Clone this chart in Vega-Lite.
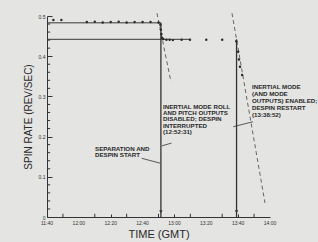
{
  "$schema": "https://vega.github.io/schema/vega-lite/v6.json",
  "width": 223,
  "height": 201,
  "autosize": {"type": "none"},
  "padding": {"left": 47, "top": 16, "right": 48, "bottom": 25},
  "background": "#e4e4e2",
  "config": {
    "view": {"stroke": null},
    "font": "Liberation Sans",
    "axis": {"grid": false, "labelOverlap": false, "labelBound": false, "domainColor": "#333", "tickColor": "#333", "labelColor": "#333", "titleColor": "#2a2a2a", "labelFont": "Liberation Sans", "titleFont": "Liberation Sans"}
  },
  "datasets": {
    "dots": [
      {"t": "1970-01-01T11:44:00", "v": 0.490},
      {"t": "1970-01-01T11:49:00", "v": 0.490},
      {"t": "1970-01-01T12:05:00", "v": 0.485},
      {"t": "1970-01-01T12:10:00", "v": 0.486},
      {"t": "1970-01-01T12:15:00", "v": 0.484},
      {"t": "1970-01-01T12:20:00", "v": 0.485},
      {"t": "1970-01-01T12:25:00", "v": 0.486},
      {"t": "1970-01-01T12:30:00", "v": 0.484},
      {"t": "1970-01-01T12:35:00", "v": 0.485},
      {"t": "1970-01-01T12:40:00", "v": 0.485},
      {"t": "1970-01-01T12:45:00", "v": 0.485},
      {"t": "1970-01-01T12:50:00", "v": 0.484},
      {"t": "1970-01-01T12:51:10", "v": 0.478},
      {"t": "1970-01-01T12:51:30", "v": 0.466},
      {"t": "1970-01-01T12:51:50", "v": 0.455},
      {"t": "1970-01-01T12:52:10", "v": 0.446},
      {"t": "1970-01-01T12:53:00", "v": 0.443},
      {"t": "1970-01-01T12:55:00", "v": 0.441},
      {"t": "1970-01-01T12:57:00", "v": 0.441},
      {"t": "1970-01-01T12:59:00", "v": 0.440},
      {"t": "1970-01-01T13:04:30", "v": 0.441},
      {"t": "1970-01-01T13:09:45", "v": 0.441},
      {"t": "1970-01-01T13:20:00", "v": 0.441},
      {"t": "1970-01-01T13:30:00", "v": 0.441},
      {"t": "1970-01-01T13:38:50", "v": 0.437},
      {"t": "1970-01-01T13:40:00", "v": 0.411},
      {"t": "1970-01-01T13:40:30", "v": 0.392},
      {"t": "1970-01-01T13:41:10", "v": 0.374},
      {"t": "1970-01-01T13:42:30", "v": 0.353}
    ],
    "solid": [
      {"g": "upper", "t": "1970-01-01T11:40:00", "v": 0.483},
      {"g": "upper", "t": "1970-01-01T12:51:30", "v": 0.483},
      {"g": "lower", "t": "1970-01-01T11:40:00", "v": 0.442},
      {"g": "lower", "t": "1970-01-01T13:10:00", "v": 0.442}
    ],
    "dashed": [
      {"g": "d1", "t": "1970-01-01T12:49:03", "v": 0.507},
      {"g": "d1", "t": "1970-01-01T12:57:50", "v": 0.336},
      {"g": "d2", "t": "1970-01-01T13:36:08", "v": 0.507},
      {"g": "d2", "t": "1970-01-01T13:56:51", "v": 0.035}
    ],
    "leaders": [
      {"g": "sep", "t": "1970-01-01T12:39:27", "v": 0.146},
      {"g": "sep", "t": "1970-01-01T12:50:56", "v": 0.134},
      {"g": "int", "t": "1970-01-01T12:52:12", "v": 0.177},
      {"g": "int", "t": "1970-01-01T12:58:10", "v": 0.184},
      {"g": "res", "t": "1970-01-01T13:36:57", "v": 0.2246},
      {"g": "res", "t": "1970-01-01T13:49:18", "v": 0.237}
    ],
    "verticals": [
      {"t": "1970-01-01T12:51:30", "v0": 0, "v1": 0.483},
      {"t": "1970-01-01T13:39:00", "v0": 0, "v1": 0.442}
    ],
    "arrows": [
      {"t": "1970-01-01T12:51:30", "v": 0.013},
      {"t": "1970-01-01T13:39:00", "v": 0.013}
    ],
    "yminor": [
      {"v": 0.02}, {"v": 0.04}, {"v": 0.06}, {"v": 0.08},
      {"v": 0.12}, {"v": 0.14}, {"v": 0.16}, {"v": 0.18},
      {"v": 0.22}, {"v": 0.24}, {"v": 0.26}, {"v": 0.28},
      {"v": 0.32}, {"v": 0.34}, {"v": 0.36}, {"v": 0.38},
      {"v": 0.42}, {"v": 0.44}, {"v": 0.46}, {"v": 0.48}
    ],
    "xminor": [
      {"t": "1970-01-01T11:50:00"}, {"t": "1970-01-01T12:10:00"}, {"t": "1970-01-01T12:30:00"},
      {"t": "1970-01-01T12:50:00"}, {"t": "1970-01-01T13:10:00"}, {"t": "1970-01-01T13:30:00"},
      {"t": "1970-01-01T13:50:00"}
    ],
    "xlabels": [
      {"t": "1970-01-01T11:40:00"}, {"t": "1970-01-01T12:00:00"}, {"t": "1970-01-01T12:20:00"},
      {"t": "1970-01-01T12:40:00"}, {"t": "1970-01-01T13:00:00"}, {"t": "1970-01-01T13:20:00"},
      {"t": "1970-01-01T13:40:00"}, {"t": "1970-01-01T14:00:00"}
    ],
    "notes": [
      {"t": "1970-01-01T12:10:08", "v": 0.177, "label": "SEPARATION AND\nDESPIN START"},
      {"t": "1970-01-01T12:52:50", "v": 0.282, "label": "INERTIAL MODE ROLL\nAND PITCH OUTPUTS\nDISABLED; DESPIN\nINTERRUPTED\n(12:52:31)"}
    ],
    "notes2": [
      {"t": "1970-01-01T13:48:41", "v": 0.331, "label": "INERTIAL MODE\n(AND MODE\nOUTPUTS) ENABLED;\nDESPIN RESTART\n(13:38:52)"}
    ]
  },
  "layer": [
    {
      "data": {"name": "solid"},
      "mark": {"type": "line", "color": "#3a3a3a", "strokeWidth": 1},
      "encoding": {
        "x": {
          "field": "t", "type": "temporal",
          "scale": {"domain": [{"year": 1970, "month": 1, "date": 1, "hours": 11, "minutes": 40}, {"year": 1970, "month": 1, "date": 1, "hours": 14, "minutes": 0}], "nice": false},
          "axis": {
            "title": "TIME (GMT)", "titleFontSize": 11, "titleFontWeight": "normal", "titlePadding": 11,
            "values": [
              {"year": 1970, "month": 1, "date": 1, "hours": 11, "minutes": 40},
              {"year": 1970, "month": 1, "date": 1, "hours": 12, "minutes": 0},
              {"year": 1970, "month": 1, "date": 1, "hours": 12, "minutes": 20},
              {"year": 1970, "month": 1, "date": 1, "hours": 12, "minutes": 40},
              {"year": 1970, "month": 1, "date": 1, "hours": 13, "minutes": 0},
              {"year": 1970, "month": 1, "date": 1, "hours": 13, "minutes": 20},
              {"year": 1970, "month": 1, "date": 1, "hours": 13, "minutes": 40},
              {"year": 1970, "month": 1, "date": 1, "hours": 14, "minutes": 0}
            ],
            "labels": false, "tickSize": -3
          }
        },
        "y": {"field": "v", "type": "quantitative", "scale": {"domain": [0, 0.5], "nice": false},
          "axis": {
            "title": "SPIN RATE (REV/SEC)", "titleFontSize": 10, "titleFontWeight": "normal", "titlePadding": 5,
            "values": [0, 0.1, 0.2, 0.3, 0.4, 0.5],
            "format": ".1~f",
            "labelFontSize": 5, "labelPadding": 7, "labelOverlap": false, "labelFlush": false,
            "tickSize": -5
          }
        },
        "detail": {"field": "g"}
      }
    },
    {
      "data": {"name": "xlabels"},
      "mark": {"type": "text", "fontSize": 5, "color": "#333", "baseline": "middle", "align": "center", "dy": 6, "clip": false},
      "encoding": {
        "x": {"field": "t", "type": "temporal"},
        "y": {"datum": 0, "type": "quantitative"},
        "text": {"field": "t", "type": "temporal", "format": "%H:%M"}
      }
    },
    {
      "data": {"name": "yminor"},
      "mark": {"type": "rule", "color": "#333", "strokeWidth": 1},
      "encoding": {
        "x": {"datum": {"year": 1970, "month": 1, "date": 1, "hours": 11, "minutes": 40}, "type": "temporal"},
        "x2": {"datum": {"year": 1970, "month": 1, "date": 1, "hours": 11, "minutes": 42}},
        "y": {"field": "v", "type": "quantitative"}
      }
    },
    {
      "data": {"name": "xminor"},
      "mark": {"type": "rule", "color": "#333", "strokeWidth": 1},
      "encoding": {
        "x": {"field": "t", "type": "temporal"},
        "y": {"datum": 0, "type": "quantitative"},
        "y2": {"datum": 0.008}
      }
    },
    {
      "data": {"name": "dashed"},
      "mark": {"type": "line", "color": "#444", "strokeWidth": 0.8, "strokeDash": [4, 3], "clip": false},
      "encoding": {"x": {"field": "t", "type": "temporal"}, "y": {"field": "v", "type": "quantitative"}, "detail": {"field": "g"}}
    },
    {
      "data": {"name": "leaders"},
      "mark": {"type": "line", "color": "#333", "strokeWidth": 0.8},
      "encoding": {"x": {"field": "t", "type": "temporal"}, "y": {"field": "v", "type": "quantitative"}, "detail": {"field": "g"}}
    },
    {
      "data": {"name": "verticals"},
      "mark": {"type": "rule", "color": "#333", "strokeWidth": 1.3},
      "encoding": {"x": {"field": "t", "type": "temporal"}, "y": {"field": "v0", "type": "quantitative"}, "y2": {"field": "v1"}}
    },
    {
      "data": {"name": "arrows"},
      "mark": {"type": "point", "shape": "triangle-down", "filled": true, "color": "#333", "size": 12, "opacity": 1},
      "encoding": {"x": {"field": "t", "type": "temporal"}, "y": {"field": "v", "type": "quantitative"}}
    },
    {
      "data": {"name": "dots"},
      "mark": {"type": "point", "shape": "circle", "filled": true, "color": "#2a2a2a", "size": 6, "opacity": 1},
      "encoding": {"x": {"field": "t", "type": "temporal"}, "y": {"field": "v", "type": "quantitative"}}
    },
    {
      "data": {"name": "notes"},
      "mark": {"type": "text", "align": "left", "baseline": "top", "fontSize": 6.2, "fontWeight": "bold", "lineHeight": 6.3, "lineBreak": "\n", "color": "#2a2a2a"},
      "encoding": {"x": {"field": "t", "type": "temporal"}, "y": {"field": "v", "type": "quantitative"}, "text": {"field": "label"}}
    },
    {
      "data": {"name": "notes2"},
      "mark": {"type": "text", "align": "left", "baseline": "top", "fontSize": 6.2, "fontWeight": "bold", "lineHeight": 6.9, "lineBreak": "\n", "color": "#2a2a2a"},
      "encoding": {"x": {"field": "t", "type": "temporal"}, "y": {"field": "v", "type": "quantitative"}, "text": {"field": "label"}}
    }
  ]
}
